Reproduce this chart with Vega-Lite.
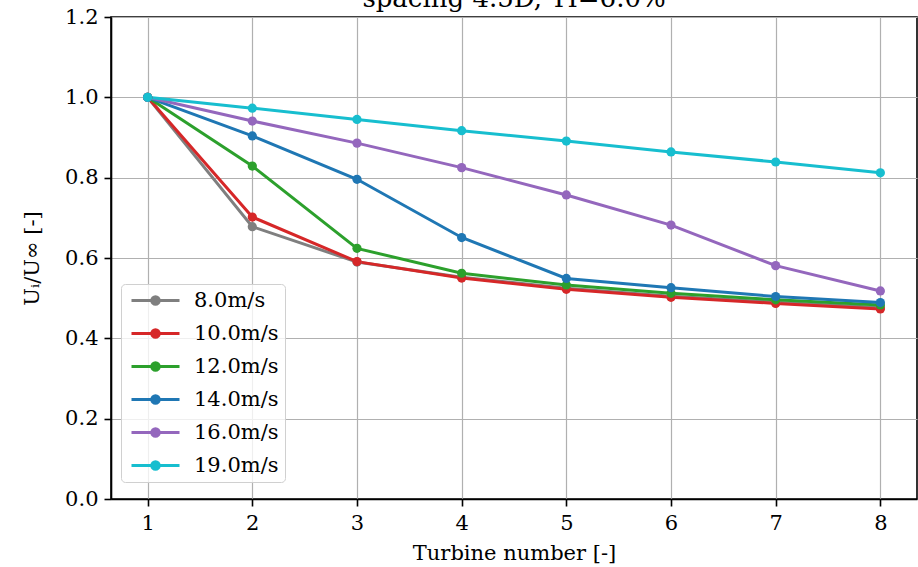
{
  "$schema": "https://vega.github.io/schema/vega-lite/v6.json",
  "autosize": {"type": "none"},
  "width": 806,
  "height": 482,
  "padding": {"left": 111, "top": 17, "right": 1, "bottom": 68},
  "background": "white",
  "title": {
    "text": "spacing 4.5D, TI=6.0%",
    "font": "DejaVu Serif",
    "fontSize": 26,
    "fontWeight": "normal",
    "color": "#000000",
    "anchor": "middle",
    "baseline": "alphabetic",
    "offset": 3,
    "dy": 30
  },
  "config": {
    "font": "DejaVu Serif",
    "view": {"stroke": "#000000", "strokeWidth": 1.6},
    "axis": {
      "labelFont": "DejaVu Serif",
      "titleFont": "DejaVu Serif",
      "labelFontSize": 21,
      "titleFontSize": 21,
      "labelColor": "#000000",
      "titleColor": "#000000",
      "titleFontWeight": "normal",
      "domainColor": "#000000",
      "domainWidth": 1.6,
      "tickColor": "#000000",
      "tickWidth": 1.6,
      "tickSize": 7,
      "labelPadding": 6,
      "gridColor": "#b0b0b0",
      "gridWidth": 1.2,
      "gridOpacity": 1
    },
    "legend": {
      "labelFont": "DejaVu Serif",
      "labelFontSize": 21,
      "labelColor": "#000000"
    }
  },
  "data": {
    "values": [
      {"turbine": 1, "speed": "8.0m/s", "u": 1.0},
      {"turbine": 2, "speed": "8.0m/s", "u": 0.678},
      {"turbine": 3, "speed": "8.0m/s", "u": 0.590},
      {"turbine": 4, "speed": "8.0m/s", "u": 0.552},
      {"turbine": 5, "speed": "8.0m/s", "u": 0.525},
      {"turbine": 6, "speed": "8.0m/s", "u": 0.505},
      {"turbine": 7, "speed": "8.0m/s", "u": 0.490},
      {"turbine": 8, "speed": "8.0m/s", "u": 0.477},
      {"turbine": 1, "speed": "10.0m/s", "u": 1.0},
      {"turbine": 2, "speed": "10.0m/s", "u": 0.702},
      {"turbine": 3, "speed": "10.0m/s", "u": 0.591},
      {"turbine": 4, "speed": "10.0m/s", "u": 0.550},
      {"turbine": 5, "speed": "10.0m/s", "u": 0.522},
      {"turbine": 6, "speed": "10.0m/s", "u": 0.502},
      {"turbine": 7, "speed": "10.0m/s", "u": 0.487},
      {"turbine": 8, "speed": "10.0m/s", "u": 0.473},
      {"turbine": 1, "speed": "12.0m/s", "u": 1.0},
      {"turbine": 2, "speed": "12.0m/s", "u": 0.829},
      {"turbine": 3, "speed": "12.0m/s", "u": 0.624},
      {"turbine": 4, "speed": "12.0m/s", "u": 0.562},
      {"turbine": 5, "speed": "12.0m/s", "u": 0.533},
      {"turbine": 6, "speed": "12.0m/s", "u": 0.512},
      {"turbine": 7, "speed": "12.0m/s", "u": 0.496},
      {"turbine": 8, "speed": "12.0m/s", "u": 0.483},
      {"turbine": 1, "speed": "14.0m/s", "u": 1.0},
      {"turbine": 2, "speed": "14.0m/s", "u": 0.904},
      {"turbine": 3, "speed": "14.0m/s", "u": 0.796},
      {"turbine": 4, "speed": "14.0m/s", "u": 0.651},
      {"turbine": 5, "speed": "14.0m/s", "u": 0.549},
      {"turbine": 6, "speed": "14.0m/s", "u": 0.526},
      {"turbine": 7, "speed": "14.0m/s", "u": 0.504},
      {"turbine": 8, "speed": "14.0m/s", "u": 0.489},
      {"turbine": 1, "speed": "16.0m/s", "u": 1.0},
      {"turbine": 2, "speed": "16.0m/s", "u": 0.941},
      {"turbine": 3, "speed": "16.0m/s", "u": 0.886},
      {"turbine": 4, "speed": "16.0m/s", "u": 0.825},
      {"turbine": 5, "speed": "16.0m/s", "u": 0.757},
      {"turbine": 6, "speed": "16.0m/s", "u": 0.682},
      {"turbine": 7, "speed": "16.0m/s", "u": 0.581},
      {"turbine": 8, "speed": "16.0m/s", "u": 0.518},
      {"turbine": 1, "speed": "19.0m/s", "u": 1.0},
      {"turbine": 2, "speed": "19.0m/s", "u": 0.973},
      {"turbine": 3, "speed": "19.0m/s", "u": 0.945},
      {"turbine": 4, "speed": "19.0m/s", "u": 0.917},
      {"turbine": 5, "speed": "19.0m/s", "u": 0.891},
      {"turbine": 6, "speed": "19.0m/s", "u": 0.864},
      {"turbine": 7, "speed": "19.0m/s", "u": 0.839},
      {"turbine": 8, "speed": "19.0m/s", "u": 0.812}
    ]
  },
  "mark": {"type": "line", "strokeWidth": 3, "point": {"filled": true, "size": 85}},
  "encoding": {
    "x": {
      "field": "turbine",
      "type": "quantitative",
      "scale": {"domain": [0.65, 8.35], "nice": false, "zero": false},
      "axis": {"values": [1, 2, 3, 4, 5, 6, 7, 8], "format": "d", "title": "Turbine number [-]", "titlePadding": 9}
    },
    "y": {
      "field": "u",
      "type": "quantitative",
      "scale": {"domain": [0, 1.2], "nice": false},
      "axis": {"values": [0, 0.2, 0.4, 0.6, 0.8, 1.0, 1.2], "format": ".1f", "title": "Uᵢ/U∞ [-]", "titlePadding": 22}
    },
    "color": {
      "field": "speed",
      "type": "nominal",
      "scale": {
        "domain": ["8.0m/s", "10.0m/s", "12.0m/s", "14.0m/s", "16.0m/s", "19.0m/s"],
        "range": ["#7f7f7f", "#d62728", "#2ca02c", "#1f77b4", "#9467bd", "#17becf"]
      },
      "legend": {
        "title": null,
        "orient": "none",
        "legendX": 10,
        "legendY": 267,
        "padding": 6,
        "fillColor": "rgba(255,255,255,0.8)",
        "strokeColor": "#d0d0d0",
        "cornerRadius": 4,
        "symbolType": "M-4,0L4,0M-0.62,0A0.62,0.62,0,1,1,0.62,0A0.62,0.62,0,1,1,-0.62,0Z",
        "symbolSize": 144,
        "symbolStrokeWidth": 3,
        "symbolOffset": 18,
        "labelOffset": 28,
        "rowPadding": 11,
        "encode": {
          "symbols": {"update": {"fill": {"scale": "color", "field": "value"}, "stroke": {"scale": "color", "field": "value"}}}
        }
      }
    }
  }
}
